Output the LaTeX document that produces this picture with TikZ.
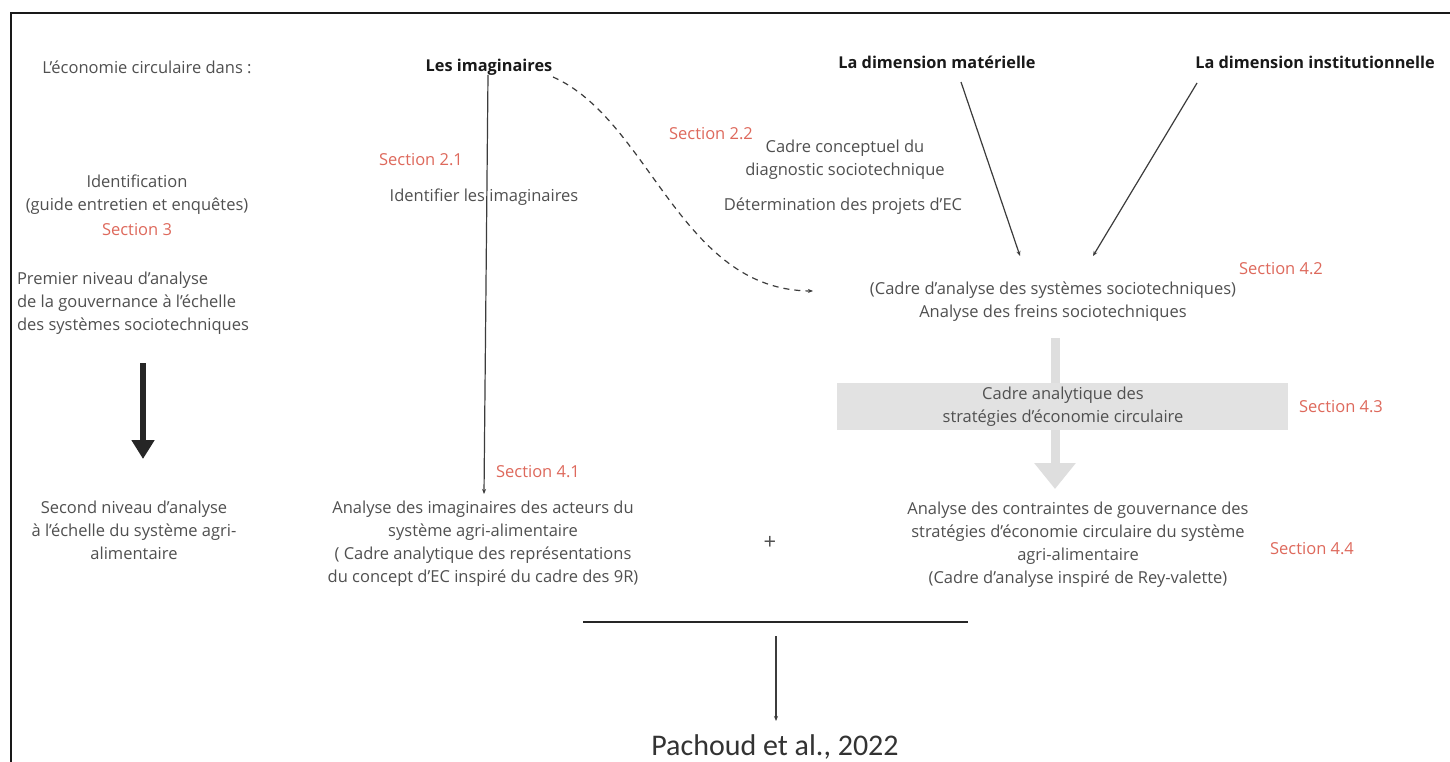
\documentclass[tikz,border=0pt]{standalone}
\usepackage{fontspec}
\setmainfont{Open Sans}
\newfontfamily\calib{Carlito}
\usetikzlibrary{arrows.meta}
\definecolor{txt}{RGB}{80,80,80}
\definecolor{ttl}{RGB}{25,25,25}
\definecolor{sec}{RGB}{222,105,92}
\definecolor{boxgray}{RGB}{226,226,226}
\definecolor{arrgray}{RGB}{222,222,222}
\definecolor{linegray}{RGB}{60,60,60}
\tikzset{
  base/.style={inner sep=0pt, outer sep=0pt, align=center, text=txt, font=\fontsize{16.5}{23}\selectfont},
  title/.style={base, text=ttl, font=\fontsize{16.3}{23}\selectfont\bfseries},
  secl/.style={base, text=sec},
  thin/.style={draw=linegray, line width=1.2pt},
  tip/.style={-{Stealth[length=5pt,width=4pt]}},
}
\begin{document}
\begin{tikzpicture}[x=1pt,y=-1pt]
\useasboundingbox (0,0) rectangle (1450,762);
\fill[white] (0,0) rectangle (1450,762);
% frame
\coordinate (ftr) at (1450,13);
\coordinate (ftl) at (11,13);
\coordinate (fbl) at (11,762);
\draw[line width=2.2pt, draw=black!90] (ftr) -- (ftl) -- (fbl);

% left column
\node[base] (econ) at (147,67) {L'économie circulaire dans :};
\node[base] (ident) at (137,195) {Identification\\(guide entretien et enquêtes)};
\node[secl] (s3) at (137,230) {Section 3};
\node[base, align=left, anchor=west] (premier) at (17,303.5) {Premier niveau d'analyse\\de la gouvernance à l'échelle\\des systèmes sociotechniques};
\node[base] (second) at (134,530) {Second niveau d'analyse\\à l'échelle du système agri-\\alimentaire};
\coordinate (bigA) at (143,363);
\coordinate (bigB) at (143,459);
\draw[line width=6pt, draw=black!85, -{Triangle[length=19pt,width=22pt]}] (bigA) -- (bigB);

% imaginaires column
\node[title] (imag) at (489,67) {Les imaginaires};
\node[secl] (s21) at (421,160) {Section 2.1};
\node[base] (idimag) at (484,197) {Identifier les imaginaires};
\node[secl] (s41) at (538,472) {Section 4.1};
\node[base] (anaimag) at (483,543.5) {Analyse des imaginaires des acteurs du\\système agri-alimentaire\\( Cadre analytique des représentations\\du concept d'EC inspiré du cadre des 9R)};
\coordinate (imtop) at (488,75);
\coordinate (imbot) at (484,494);
\draw[thin, tip] (imtop) -- (imbot);

% dashed curve
\coordinate (dashA) at (553,77);
\coordinate (dashB) at (813,291);
\draw[thin, dash pattern=on 6pt off 5pt, tip] (dashA) .. controls (650,120) and (680,290) .. (dashB);

% middle texts
\node[secl] (s22) at (711,134) {Section 2.2};
\node[base] (cadreconc) at (845,159.5) {Cadre conceptuel du\\diagnostic sociotechnique};
\node[base] (determ) at (843,206) {Détermination des projets d'EC};

% right column
\node[title] (mat) at (937,62) {La dimension matérielle};
\node[title] (inst) at (1315,62) {La dimension institutionnelle};
\coordinate (matA) at (961,82);
\coordinate (matB) at (1020,256);
\coordinate (instA) at (1197,83);
\coordinate (instB) at (1093,256);
\draw[thin, tip] (matA) -- (matB);
\draw[thin, tip] (instA) -- (instB);
\node[secl] (s42) at (1281,269) {Section 4.2};
\node[base] (cadreanal) at (1053,302) {(Cadre d'analyse des systèmes sociotechniques)\\Analyse des freins sociotechniques};

\coordinate (grA) at (1055,338);
\coordinate (grB) at (1055,489);
\draw[line width=9pt, draw=arrgray, -{Triangle[length=26pt,width=40pt]}] (grA) -- (grB);
\node[base, fill=boxgray, minimum width=451pt, minimum height=47pt] (box) at (1062.5,406.5) {};
\node[base] (boxtxt) at (1063,407) {Cadre analytique des\\stratégies d'économie circulaire};
\node[secl] (s43) at (1341,407) {Section 4.3};

\node[base] (contr) at (1078,545) {Analyse des contraintes de gouvernance des\\stratégies d'économie circulaire du système\\agri-alimentaire\\(Cadre d'analyse inspiré de Rey-valette)};
\node[secl] (s44) at (1312,549) {Section 4.4};

\node[base, font=\fontsize{22}{23}\selectfont] (plus) at (770,543) {+};

% bottom
\coordinate (hlA) at (583,622);
\coordinate (hlB) at (968,622);
\draw[line width=2.5pt, draw=black!85] (hlA) -- (hlB);
\coordinate (dnA) at (776,636);
\coordinate (dnB) at (776,721);
\draw[thin, tip] (dnA) -- (dnB);
\node[base, text=black!80, font=\calib\fontsize{30}{32}\selectfont] (pach) at (775,747) {Pachoud et al., 2022};
\end{tikzpicture}
\end{document}
